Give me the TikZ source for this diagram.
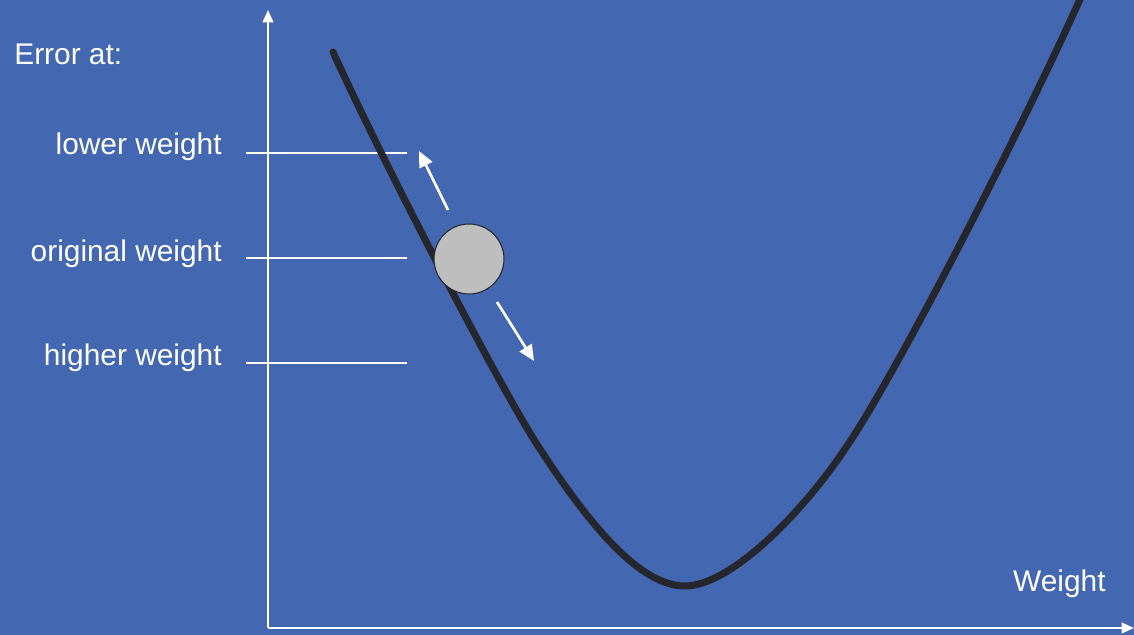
\documentclass[tikz,border=0pt]{standalone}
\usepackage{fontspec}
\setmainfont{Liberation Sans}
\usetikzlibrary{positioning, arrows.meta}
\definecolor{gdblue}{RGB}{67, 104, 177}
\definecolor{gdcurve}{RGB}{38, 38, 46}
\definecolor{gdball}{RGB}{190, 190, 190}

\begin{document}
\begin{tikzpicture}[
    x=0.02cm, y=-0.02cm,
    label/.style={text=white, inner sep=0pt, font=\fontsize{17}{20}\selectfont},
    axis/.style={-{Triangle[length=7pt, width=6pt]}, white, line width=1.2pt},
    guide/.style={white, line width=0.6pt},
    move/.style={-{Triangle[length=9pt, width=8pt]}, white, line width=1.5pt},
    curve/.style={gdcurve, line width=4pt, line cap=round}
  ]
    \clip (0,0) rectangle (1134,635);
    \fill[gdblue] (0,0) rectangle (1134,635);

    % axes
    \coordinate (origin) at (268,628);
    \coordinate (ytop)   at (268,10);
    \coordinate (xend)   at (1134,628);
    \draw[axis] (origin) -- (ytop);
    \draw[axis] (origin) -- (xend);

    % labels
    \node[label, anchor=base west] (err)  at (14,65)   {Error at:};
    \node[label, anchor=base east] (low)  at (222,155) {lower weight};
    \node[label, anchor=base east] (orig) at (222,261) {original weight};
    \node[label, anchor=base east] (high) at (222,365) {higher weight};
    \node[label, anchor=base east] (wt)   at (1106,591) {Weight};

    % guide lines
    \draw[guide] (246,153) -- (407,153);
    \draw[guide] (246,258) -- (407,258);
    \draw[guide] (246,363) -- (407,363);

    % error curve
    \coordinate (cstart) at (333,52);
    \coordinate (cleft)  at (538,446);
    \coordinate (cmin)   at (685,586);
    \coordinate (cright) at (847,446);
    \coordinate (cend)   at (1084,-10);
    \draw[curve] (cstart) .. controls (383,162) and (498,384) .. (cleft)
                          .. controls (590,526) and (640,586) .. (cmin)
                          .. controls (730,586) and (802,514) .. (cright)
                          .. controls (905,360) and (1044,83) .. (cend);

    % ball and moves
    \node[circle, draw=gdcurve, fill=gdball, line width=0.6pt,
          inner sep=0pt, minimum size=1.4cm] (ball) at (469,259) {};
    \draw[move] (448,210) -- (419,151);
    \draw[move] (497,302) -- (534,361);
\end{tikzpicture}
\end{document}
